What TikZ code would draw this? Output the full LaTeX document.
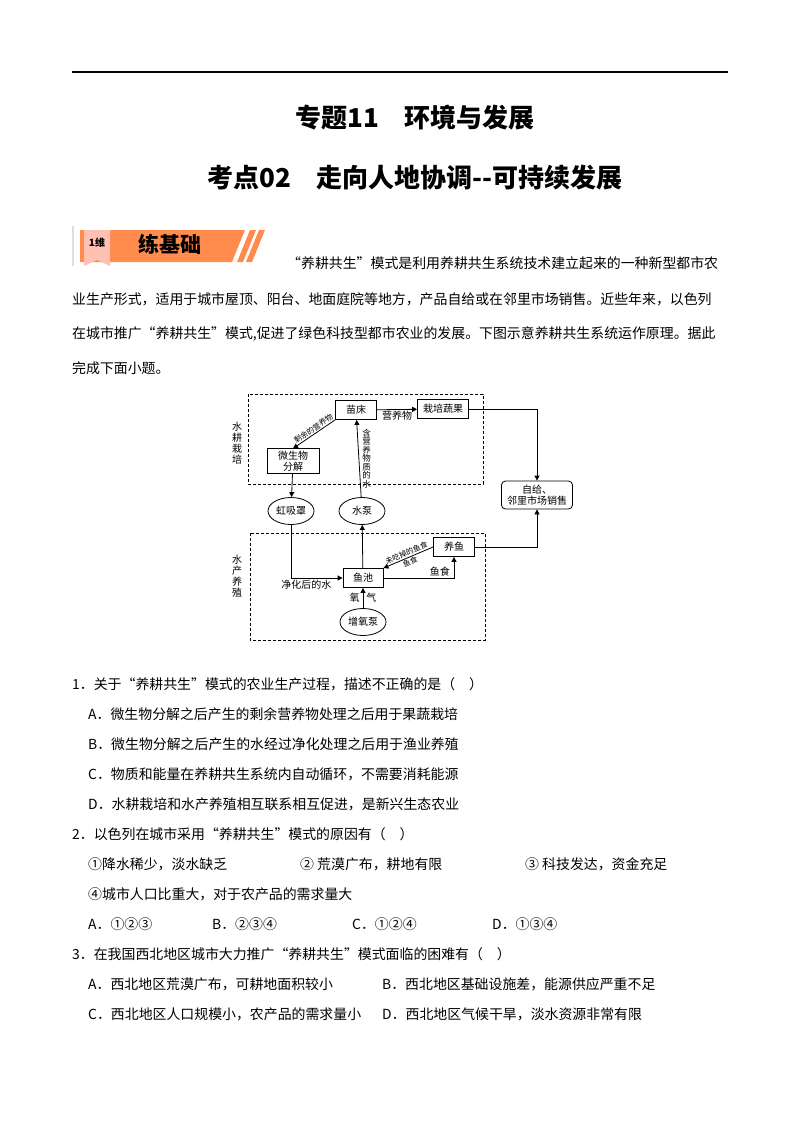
\documentclass[tikz,border=0pt]{standalone}
\usepackage{fontspec}
\setmainfont{Noto Sans CJK SC}
\usetikzlibrary{shapes.geometric,arrows.meta}
\begin{document}
\begin{tikzpicture}[x=1pt,y=-1pt,
  bx/.style={draw,thick,minimum height=19pt,inner sep=2pt,font=\fontsize{10}{11}\selectfont,align=center},
  el/.style={draw,thick,ellipse,minimum width=46pt,minimum height=27pt,inner sep=0pt,font=\fontsize{10}{11}\selectfont},
  ar/.style={thick,-{Triangle[length=5pt,width=5pt]}},
  lb/.style={font=\fontsize{7.5}{8}\selectfont,inner sep=1pt},
  lm/.style={font=\fontsize{10}{11}\selectfont,inner sep=1.5pt},
  dbox/.style={thick,dashed,dash pattern=on 3pt off 2pt},
  tx/.style={anchor=west,font=\fontsize{13.9}{14}\selectfont,inner sep=0pt},
  tt/.style={font=\bfseries\fontsize{26}{28}\selectfont}]
\useasboundingbox (0,0) rectangle (800,1132);
\fill[white] (0,0) rectangle (800,1132);
\draw[line width=1.3pt] (72,72) -- (728,72);
\node[tt] (t1) at (415,118) {专题11\quad 环境与发展};
\node[tt] (t2) at (415,178) {考点02\quad 走向人地协调{-}{-}可持续发展};
% banner
\fill[gray!25] (72,226) rectangle (74,266);
\fill[orange!70!red!70] (80,230) -- (245,230) -- (232,262) -- (80,262) -- cycle;
\fill[orange!40!red!30!white] (84,230) -- (110,230) -- (110,266) -- (97,260) -- (84,266) -- cycle;
\fill[orange!70!red!70] (250,230) -- (256,230) -- (243,262) -- (237,262) -- cycle;
\fill[orange!70!red!70] (259,230) -- (265,230) -- (252,262) -- (246,262) -- cycle;
\node[font=\bfseries\fontsize{10}{10}\selectfont] (b1) at (97,243) {1维};
\node[font=\bfseries\fontsize{21}{22}\selectfont] (b2) at (170,244) {练基础};
% body text
\node[tx] (p1) at (287,263) {“养耕共生”模式是利用养耕共生系统技术建立起来的一种新型都市农};
\node[tx] (p2) at (72,299) {业生产形式，适用于城市屋顶、阳台、地面庭院等地方，产品自给或在邻里市场销售。近些年来，以色列};
\node[tx] (p3) at (72,334) {在城市推广“养耕共生”模式,促进了绿色科技型都市农业的发展。下图示意养耕共生系统运作原理。据此};
\node[tx] (p4) at (72,368) {完成下面小题。};
% diagram
\draw[dbox] (248,394) rectangle (483,484);
\draw[dbox] (250,533) rectangle (485,640);
\node[font=\fontsize{10}{11}\selectfont,align=center] (l1) at (237,443) {水\\耕\\栽\\培};
\node[font=\fontsize{10}{11}\selectfont,align=center] (l2) at (237,576) {水\\产\\养\\殖};
\node[bx,minimum width=41pt] (mc) at (356,410) {苗床};
\node[bx,minimum width=51pt] (zp) at (443,409) {栽培蔬果};
\node[bx,minimum width=52pt] (ws) at (293,461) {微生物\\分解};
\node[el] (hx) at (291,511) {虹吸罩};
\node[el] (sb) at (362,511) {水泵};
\node[bx,rounded corners=4pt,minimum width=71pt,minimum height=28pt] (zg) at (537,495) {自给、\\邻里市场销售};
\node[bx,minimum width=41pt] (yy) at (454,547) {养鱼};
\node[bx,minimum width=40pt] (yc) at (363,578) {鱼池};
\node[el] (zy) at (363,622) {增氧泵};
\draw[ar] (mc.south west) -- node[lb,sloped,above,pos=0.45] {剩余的营养物} (ws.north);
\draw[ar] (mc) -- node[lm,below] {营养物} (zp);
\draw[ar] (zp.east) -| (zg.north);
\draw[ar] (ws) -- (hx);
\coordinate (c1) at (291,578);
\draw[ar] (hx.south) -- (c1) -- node[lm,below,pos=0.3] {净化后的水} (yc.west);
\draw[ar] (yc) -- (sb);
\draw[ar] (sb) -- node[right,xshift=2pt,align=center,font=\fontsize{8.5}{8.5}\selectfont,inner sep=1pt] {含\\营\\养\\物\\质\\的\\水} (mc);
\draw[ar] (yy.west) -- node[lb,sloped,above] {未吃掉的鱼食} node[lb,sloped,below] {鱼食} (yc.north east);
\draw[ar] (yc.east) -| node[lm,above,pos=0.4] {鱼食} (yy.south);
\draw[ar] (yy.east) -| (zg.south);
\draw[ar] (zy) -- node[lm,left,inner sep=3pt] {氧} node[lm,right,inner sep=3pt] {气} (yc);
% questions
\node[tx] (q1) at (72,684) {1．关于“养耕共生”模式的农业生产过程，描述不正确的是（\quad ）};
\node[tx] (q1a) at (88,714) {A．微生物分解之后产生的剩余营养物处理之后用于果蔬栽培};
\node[tx] (q1b) at (88,744) {B．微生物分解之后产生的水经过净化处理之后用于渔业养殖};
\node[tx] (q1c) at (88,774) {C．物质和能量在养耕共生系统内自动循环，不需要消耗能源};
\node[tx] (q1d) at (88,804) {D．水耕栽培和水产养殖相互联系相互促进，是新兴生态农业};
\node[tx] (q2) at (72,834) {2．以色列在城市采用“养耕共生”模式的原因有（\quad ）};
\node[tx] (q2a) at (88,864) {①降水稀少，淡水缺乏};
\node[tx] (q2b) at (300,864) {② 荒漠广布，耕地有限};
\node[tx] (q2c) at (525,864) {③ 科技发达，资金充足};
\node[tx] (q2d) at (88,894) {④城市人口比重大，对于农产品的需求量大};
\node[tx] (q2e) at (88,924) {A．①②③};
\node[tx] (q2f) at (212,924) {B．②③④};
\node[tx] (q2g) at (352,924) {C．①②④};
\node[tx] (q2h) at (492,924) {D．①③④};
\node[tx] (q3) at (72,954) {3．在我国西北地区城市大力推广“养耕共生”模式面临的困难有（\quad ）};
\node[tx] (q3a) at (88,984) {A．西北地区荒漠广布，可耕地面积较小};
\node[tx] (q3b) at (382,984) {B．西北地区基础设施差，能源供应严重不足};
\node[tx] (q3c) at (88,1014) {C．西北地区人口规模小，农产品的需求量小};
\node[tx] (q3d) at (382,1014) {D．西北地区气候干旱，淡水资源非常有限};
\end{tikzpicture}
\end{document}
